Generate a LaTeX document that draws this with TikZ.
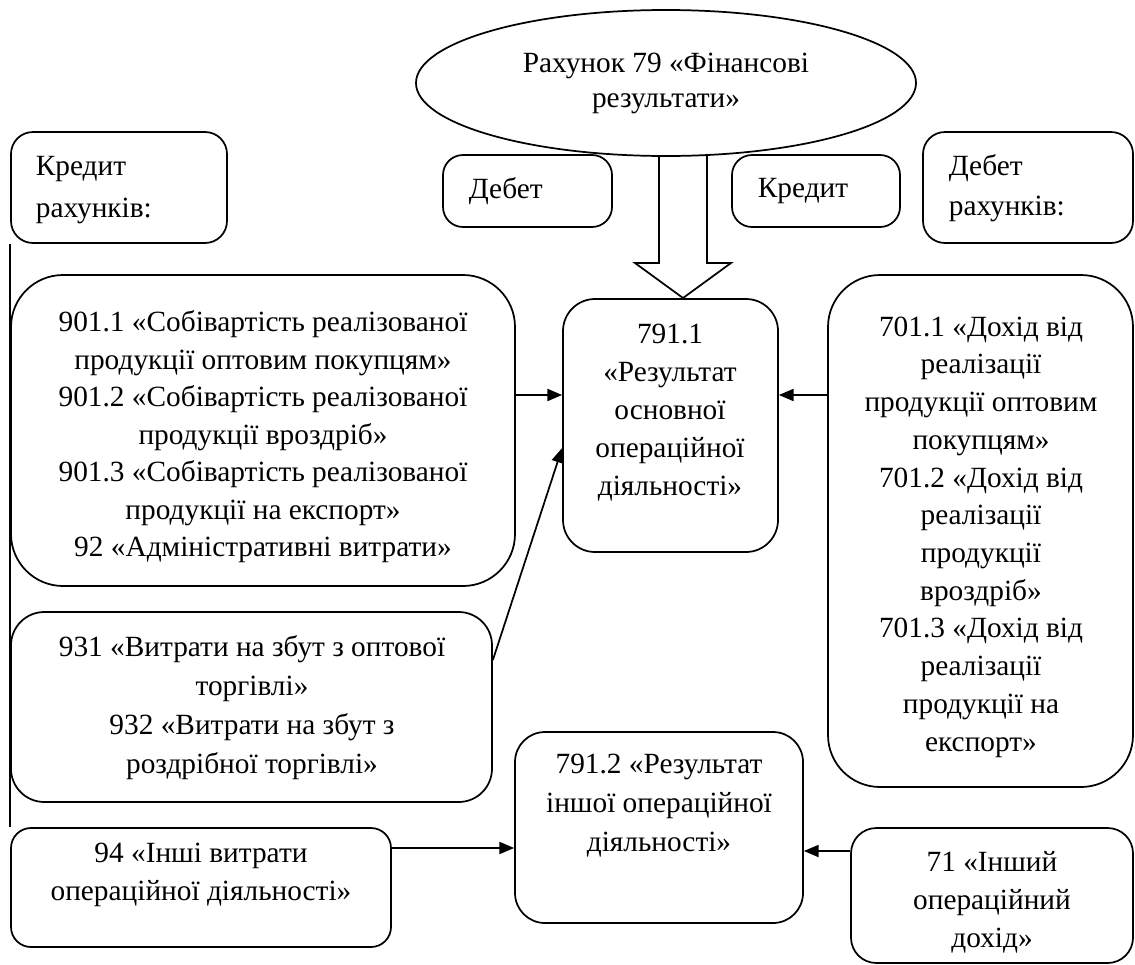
\documentclass[tikz,border=0pt]{standalone}
\usepackage{fontspec}
\setmainfont{Liberation Serif}
\usetikzlibrary{calc,positioning,fit,shapes.geometric,arrows.meta}

\begin{document}
\begin{tikzpicture}[x=0.75pt, y=-0.75pt, line width=1.3pt,
  frm/.style={draw, rectangle, inner sep=0pt},
  txt/.style={align=center, inner sep=0pt, font=\fontsize{22}{#1}\selectfont},
  txt/.default=28.5,
  arr/.style={-{Triangle[length=11pt, width=9pt]}}]
\useasboundingbox (0,0) rectangle (1135,964);

% head of the scheme
\node[draw, ellipse, inner sep=0pt, minimum width=375pt, minimum height=109.5pt, txt=26.25] (fr) at (666,83) {Рахунок 79 «Фінансові\\результати»};
\draw (659,155) -- (659,263) -- (635,263) -- (683,298) -- (731,263) -- (707,263) -- (707,155);

% small labels
\node[frm, rounded corners=16.5pt, fit={(11,132) (227,243)}] (kr) {};
\node[txt=31.5, align=left, anchor=west] (krt) at (35,190) {Кредит\\рахунків:};
\node[frm, rounded corners=15pt, fit={(443,155) (612,227)}] (deb) {};
\node[txt, anchor=west] (debt) at (468,191) {Дебет};
\node[frm, rounded corners=15pt, fit={(732,155) (900,227)}] (kred) {};
\node[txt, anchor=west] (kredt) at (757,191) {Кредит};
\node[frm, rounded corners=16.5pt, fit={(923,132) (1133,243)}] (drx) {};
\node[txt=30, align=left, anchor=west] (drxt) at (948,188) {Дебет\\рахунків:};

\coordinate (lend) at (11,827);
\draw (kr.south west) -- (kr.south west |- lend);

% left column
\node[frm, rounded corners=39pt, fit={(11,275) (515,586)}] (c901) {};
\node[txt=28.1] (c901t) at (263,437) {901.1 «Собівартість реалізованої\\продукції оптовим покупцям»\\901.2 «Собівартість реалізованої\\продукції вроздріб»\\901.3 «Собівартість реалізованої\\продукції на експорт»\\92 «Адміністративні витрати»};
\node[frm, rounded corners=25pt, fit={(11,612) (492,802)}] (c931) {};
\node[txt=29.25] (c931t) at (252,708) {931 «Витрати на збут з оптової\\торгівлі»\\932 «Витрати на збут з\\роздрібної торгівлі»};
\node[frm, rounded corners=15pt, fit={(11,828) (391,947)}] (c94) {};
\node[txt] (c94t) at (201,875) {94 «Інші витрати\\операційної діяльності»};

% results
\node[frm, rounded corners=24pt, fit={(563,299) (778,552)}] (res1) {};
\node[txt] (res1t) at (670,413) {791.1\\«Результат\\основної\\операційної\\діяльності»};
\node[frm, rounded corners=22.5pt, fit={(515,732) (803,923)}] (res2) {};
\node[txt=29.25] (res2t) at (659,806) {791.2 «Результат\\іншої операційної\\діяльності»};

% right column
\node[frm, rounded corners=39pt, fit={(828,275) (1133,787)}] (c701) {};
\node[txt=28.3] (c701t) at (981,537) {701.1 «Дохід від\\реалізації\\продукції оптовим\\покупцям»\\701.2 «Дохід від\\реалізації\\продукції\\вроздріб»\\701.3 «Дохід від\\реалізації\\продукції на\\експорт»};
\node[frm, rounded corners=19pt, fit={(851,828) (1133,963)}] (c71) {};
\node[txt] (c71t) at (992,902) {71 «Інший\\операційний\\дохід»};

% connectors
\coordinate (l1) at (0,395);
\coordinate (l2) at (0,660);
\coordinate (l3) at (0,448);
\coordinate (l4) at (0,848);
\coordinate (l5) at (0,851);
\draw[arr] (c901.east |- l1) -- (res1.west |- l1);
\draw[arr] (c931.east |- l2) -- (res1.west |- l3);
\draw[arr] (c701.west |- l1) -- (res1.east |- l1);
\draw[arr] (c94.east |- l4) -- (res2.west |- l4);
\draw[arr] (c71.west |- l5) -- (res2.east |- l5);
\end{tikzpicture}
\end{document}
